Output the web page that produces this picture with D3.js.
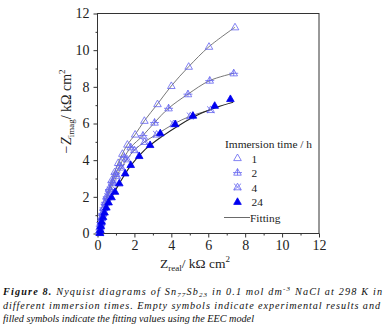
<!DOCTYPE html>
<html>
<head>
<meta charset="utf-8">
<script src="https://cdn.jsdelivr.net/npm/d3@7"></script>
<style>
  body { margin: 0; background: #fff; }
</style>
</head>
<body>
<div id="chart"></div>
<script>
'use strict';

// experimental points [Z_real, -Z_imag] in kOhm cm2
const series_1h = [[0.12,0.05],[0.13,0.2],[0.15,0.4],[0.18,0.6],[0.22,0.85],[0.27,1.1],[0.33,1.4],[0.41,1.7],[0.5,2.05],[0.62,2.45],[0.76,2.9],[0.93,3.35],[1.12,3.85],[1.35,4.35],[1.62,4.85],[2.04,5.4],[2.54,6.15],[3.25,7.06],[4.0,8.05],[4.94,9.1],[6.04,10.19],[7.45,11.25]]
const series_2h = [[0.12,0.05],[0.13,0.2],[0.15,0.4],[0.18,0.6],[0.22,0.85],[0.28,1.1],[0.35,1.4],[0.43,1.7],[0.53,2.0],[0.65,2.4],[0.8,2.8],[0.98,3.25],[1.2,3.7],[1.45,4.15],[1.8,4.7],[2.46,5.34],[3.09,6.05],[3.85,6.83],[4.9,7.6],[6.08,8.34],[7.38,8.74]]
const series_4h = [[0.12,0.05],[0.14,0.2],[0.16,0.4],[0.19,0.6],[0.23,0.85],[0.29,1.1],[0.36,1.4],[0.45,1.7],[0.56,2.0],[0.7,2.35],[0.86,2.75],[1.05,3.15],[1.3,3.6],[1.6,4.05],[2.0,4.55],[2.55,5.0],[3.2,5.4],[4.12,5.97],[5.03,6.4],[6.13,6.74]]
const series_24h = [[0.13,0.03],[0.15,0.2],[0.18,0.42],[0.23,0.65],[0.3,0.9],[0.38,1.15],[0.48,1.42],[0.6,1.7],[0.76,1.98],[0.95,2.28],[1.18,2.74],[1.5,3.28],[1.8,3.74],[2.26,4.23],[2.85,4.83],[3.4,5.47],[4.21,5.97],[5.17,6.43],[6.35,6.97],[7.2,7.34]]
// fitted curve for 24 h
const fit_24h = [[0.13,0.03],[0.18,0.42],[0.3,0.9],[0.48,1.42],[0.76,1.98],[1.18,2.72],[1.8,3.7],[2.6,4.6],[3.5,5.3],[4.5,5.95],[5.5,6.5],[6.5,6.9],[7.35,7.16]]

const legend_labels = ['1', '2', '4', '24']
const x_ticks = [0, 2, 4, 6, 8, 10, 12]
const y_ticks = [0, 2, 4, 6, 8, 10, 12]
const minor_ticks = [1, 3, 5, 7, 9, 11]

const dims = { width: 384, height: 333, left: 97.5, top: 13.5, right: 319, bottom: 233.5 }
const font = '"Liberation Serif", "Times New Roman", Times, serif'

const svg = d3.select('#chart').append('svg')
  .attr('width', dims.width)
  .attr('height', dims.height)

const x = d3.scaleLinear().domain([0, 12]).range([dims.left, dims.right])
const y = d3.scaleLinear().domain([0, 12]).range([dims.bottom, dims.top])

const axis_col = '#333'

// frame
svg.append('rect')
  .attr('x', dims.left).attr('y', dims.top)
  .attr('width', dims.right - dims.left).attr('height', dims.bottom - dims.top)
  .attr('fill', 'none').attr('stroke', axis_col).attr('stroke-width', 1)

// axes
const style_axis = (g) => {
  g.attr('font-family', null).attr('font-size', null)
  g.select('.domain').remove()
  g.selectAll('line').attr('stroke', axis_col)
  g.selectAll('text').attr('fill', '#222').style('font-size', '14px')
}

svg.append('g')
  .attr('transform', `translate(0,${dims.bottom})`)
  .call(d3.axisBottom(x).tickValues(x_ticks).tickSize(4).tickPadding(3).tickFormat(d3.format('d')))
  .call(style_axis)
svg.append('g')
  .attr('transform', `translate(0,${dims.bottom})`)
  .call(d3.axisBottom(x).tickValues(minor_ticks).tickSize(2).tickFormat(''))
  .call(style_axis)
svg.append('g')
  .attr('transform', `translate(${dims.left},0)`)
  .call(d3.axisLeft(y).tickValues(y_ticks).tickSize(4).tickPadding(4).tickFormat(d3.format('d')))
  .call(style_axis)
svg.append('g')
  .attr('transform', `translate(${dims.left},0)`)
  .call(d3.axisLeft(y).tickValues(minor_ticks).tickSize(2).tickFormat(''))
  .call(style_axis)

// axis titles
const xt = svg.append('text')
  .attr('x', 195).attr('y', 268)
  .attr('text-anchor', 'middle')
  .style('font-size', '13.5px').attr('fill', '#222')
xt.append('tspan').text('Z')
xt.append('tspan').attr('dy', 3).style('font-size', '9px').text('real')
xt.append('tspan').attr('dy', -3).text('/ kΩ cm')
xt.append('tspan').attr('dy', -6).style('font-size', '9px').text('2')

const yt = svg.append('text')
  .attr('transform', 'translate(71,112) rotate(-90)')
  .attr('text-anchor', 'middle')
  .style('font-size', '14px').attr('fill', '#222')
yt.append('tspan').style('font-style', 'italic').text('−Z')
yt.append('tspan').attr('dy', 3).style('font-size', '9px').text('imag')
yt.append('tspan').attr('dy', -3).text('/ kΩ cm')
yt.append('tspan').attr('dy', -6).style('font-size', '9px').text('2')

// fitting lines
const line = d3.line().x(d => x(d[0])).y(d => y(d[1])).curve(d3.curveCatmullRom)
const plot_g = svg.append('g')
const fits = [series_1h, series_2h, series_4h, fit_24h]
plot_g.selectAll('path.fit')
  .data(fits)
  .join('path')
  .attr('class', 'fit')
  .attr('d', line)
  .attr('fill', 'none')
  .attr('stroke', (d, i) => i === 3 ? '#222' : '#555')
  .attr('stroke-width', (d, i) => i === 3 ? 1.1 : 0.8)

// symbols
const tri = 'M0,-4L3.8,2.6L-3.8,2.6Z'
const symbols = [
  { path: tri, fill: 'none', stroke: '#6464f0' },
  { path: tri + 'M-4.5,0H4.5M0,-4V2.6', fill: 'none', stroke: '#6464f0' },
  { path: tri + 'M-3.6,-3.6L3.6,3.2M3.6,-3.6L-3.6,3.2', fill: 'none', stroke: '#6464f0' },
  { path: tri, fill: '#0000f0', stroke: '#0000f0' }
]
const all_series = [series_1h, series_2h, series_4h, series_24h]

all_series.forEach((s, i) => {
  plot_g.append('g')
    .selectAll('path')
    .data(s)
    .join('path')
    .attr('transform', d => `translate(${x(d[0])},${y(d[1])})`)
    .attr('d', symbols[i].path)
    .attr('fill', symbols[i].fill)
    .attr('stroke', symbols[i].stroke)
    .attr('stroke-width', 0.8)
})

// legend
const leg = svg.append('g').style('font-size', '11.4px')
leg.append('text').attr('x', 225).attr('y', 148).attr('fill', '#222').text('Immersion time / h')
const leg_rows = leg.selectAll('g.row')
  .data(legend_labels)
  .join('g')
  .attr('transform', (d, i) => `translate(237.5,${158 + i * 14.6})`)
leg_rows.append('path')
  .attr('d', (d, i) => symbols[i].path)
  .attr('fill', (d, i) => symbols[i].fill)
  .attr('stroke', (d, i) => symbols[i].stroke)
  .attr('stroke-width', 0.8)
leg_rows.append('text').attr('x', 14).attr('y', 4.5).attr('fill', '#222').text(d => d)
leg.append('line').attr('x1', 224).attr('x2', 250).attr('y1', 217.5).attr('y2', 217.5)
  .attr('stroke', '#444').attr('stroke-width', 0.8)
leg.append('text').attr('x', 250).attr('y', 222).attr('fill', '#222').text('Fitting')

// caption
const cap = svg.append('g').style('font-size', '10.2px').style('font-style', 'italic').attr('fill', '#111')
const l1 = cap.append('text').attr('x', 3).attr('y', 295).attr('textLength', 379).attr('lengthAdjust', 'spacing')
l1.append('tspan').style('font-weight', 'bold').text('Figure 8.')
l1.append('tspan').text(' Nyquist diagrams of Sn')
l1.append('tspan').attr('dy', 2).style('font-size', '7px').text('77')
l1.append('tspan').attr('dy', -2).text('Sb')
l1.append('tspan').attr('dy', 2).style('font-size', '7px').text('23')
l1.append('tspan').attr('dy', -2).text(' in 0.1 mol dm')
l1.append('tspan').attr('dy', -4).style('font-size', '7px').text('-3')
l1.append('tspan').attr('dy', 4).text(' NaCl at 298 K in')
cap.append('text').attr('x', 3).attr('y', 308.5).attr('textLength', 377).attr('lengthAdjust', 'spacing')
  .text('different immersion times. Empty symbols indicate experimental results and')
cap.append('text').attr('x', 3).attr('y', 321.5)
  .text('filled symbols indicate the fitting values using the EEC model')

svg.selectAll('text').style('font-family', font)
</script>
</body>
</html>
